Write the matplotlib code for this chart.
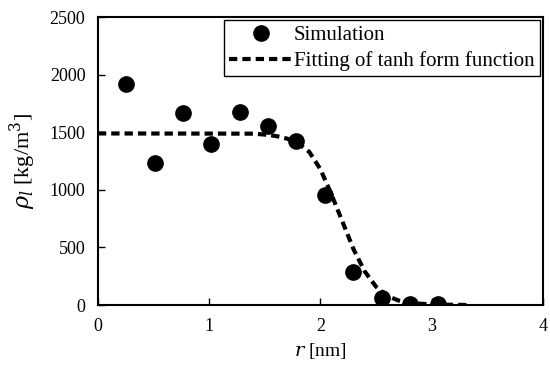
import matplotlib
matplotlib.use("Agg")
from matplotlib import pyplot as plt

# simulation points
r_sim = [0.255, 0.51, 0.765, 1.02, 1.275, 1.53, 1.785, 2.04, 2.295, 2.55, 2.805, 3.06]
rho_sim = [1920, 1235, 1670, 1400, 1680, 1555, 1420, 955, 290, 60, 5, 5]

# tanh fit curve
r_fit = [0.0, 1.4, 1.5, 1.6, 1.7, 1.8, 1.9, 2.0, 2.1, 2.2, 2.3, 2.4, 2.5, 2.6, 2.7, 2.8, 3.0, 3.35]
rho_fit = [1490, 1488, 1480, 1468, 1445, 1405, 1330, 1180, 960, 720, 480, 290, 160, 80, 40, 18, 5, 0]

plt.rcParams['font.family'] = ['Liberation Serif', 'DejaVu Serif']
plt.rcParams['mathtext.fontset'] = 'dejavuserif'

fig = plt.figure(figsize=(5.5, 3.72), dpi=100)
ax = fig.add_axes([0.178, 0.180, 0.809, 0.774])

ax.plot(r_sim, rho_sim, 'o', color='black', markersize=11, label='Simulation')
ax.plot(r_fit, rho_fit, color='black', linestyle=(0, (2.0, 1.2)), linewidth=3,
        label='Fitting of tanh form function')

ax.set_xlim(0, 4)
ax.set_ylim(0, 2500)
ax.set_xticks([0, 1, 2, 3, 4])
ax.set_yticks([0, 500, 1000, 1500, 2000, 2500])
ax.tick_params(direction='in', length=5, width=1, labelsize=13, pad=9)
for s in ax.spines.values():
    s.set_linewidth(1.5)

ax.set_xlabel(r'$r$ [nm]', fontsize=14, labelpad=5)
ax.set_ylabel(r'$\rho_l$ [kg/m$^3$]', fontsize=16, labelpad=8)

leg = ax.legend(loc='upper right', fontsize=15, frameon=True, fancybox=False,
                edgecolor='black', framealpha=1, handlelength=3.0,
                borderaxespad=0.15, labelspacing=0.3, handletextpad=0.1,
                borderpad=0.25)
leg.get_frame().set_linewidth(1)

fig.savefig('out.png', dpi=100)
